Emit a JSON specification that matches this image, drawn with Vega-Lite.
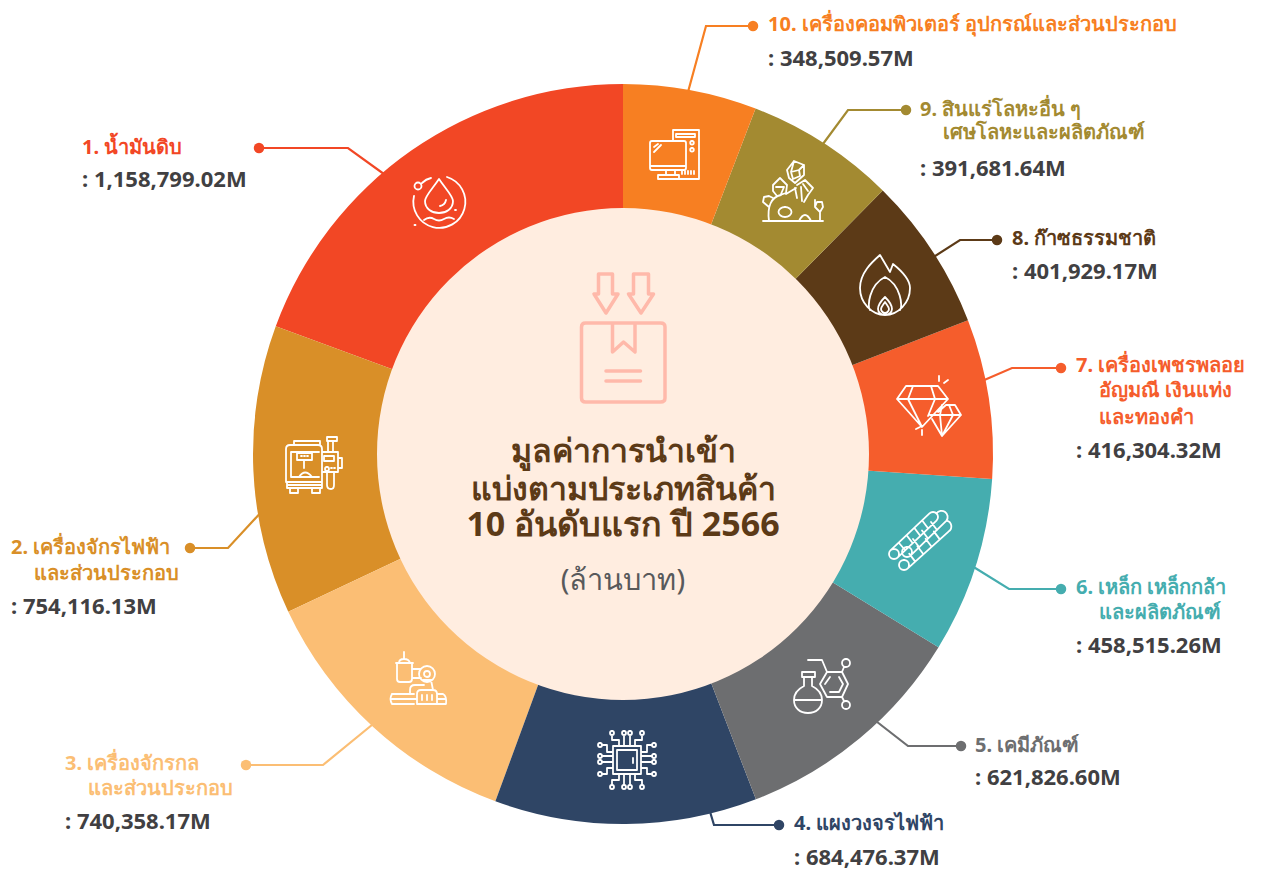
{
"$schema":"https://vega.github.io/schema/vega-lite/v6.json",
"width":1267,"height":871,"padding":0,"autosize":{"type":"fit","contains":"padding"},
"background":"#ffffff",
"config":{"view":{"stroke":null}},
"datasets":{
"slices":[
{"rank":1,"name":"น้ำมันดิบ","value":1158799.02},
{"rank":2,"name":"เครื่องจักรไฟฟ้าและส่วนประกอบ","value":754116.13},
{"rank":3,"name":"เครื่องจักรกลและส่วนประกอบ","value":740358.17},
{"rank":4,"name":"แผงวงจรไฟฟ้า","value":684476.37},
{"rank":5,"name":"เคมีภัณฑ์","value":621826.60},
{"rank":6,"name":"เหล็ก เหล็กกล้าและผลิตภัณฑ์","value":458515.26},
{"rank":7,"name":"เครื่องเพชรพลอย อัญมณี เงินแท่งและทองคำ","value":416304.32},
{"rank":8,"name":"ก๊าซธรรมชาติ","value":401929.17},
{"rank":9,"name":"สินแร่โลหะอื่น ๆ เศษโลหะและผลิตภัณฑ์","value":391681.64},
{"rank":10,"name":"เครื่องคอมพิวเตอร์ อุปกรณ์และส่วนประกอบ","value":348509.57}
],
"leaders":[
{"rank":1,"o":0,"x":259,"y":148},{"rank":1,"o":1,"x":348,"y":148},{"rank":1,"o":2,"x":395,"y":182},
{"rank":2,"o":0,"x":190,"y":548},{"rank":2,"o":1,"x":228,"y":548},{"rank":2,"o":2,"x":265,"y":508},
{"rank":3,"o":0,"x":246,"y":765},{"rank":3,"o":1,"x":323,"y":765},{"rank":3,"o":2,"x":378,"y":720},
{"rank":4,"o":0,"x":779,"y":825},{"rank":4,"o":1,"x":714,"y":825},{"rank":4,"o":2,"x":708,"y":805},
{"rank":5,"o":0,"x":961,"y":746},{"rank":5,"o":1,"x":908,"y":746},{"rank":5,"o":2,"x":872,"y":718},
{"rank":6,"o":0,"x":1061,"y":589},{"rank":6,"o":1,"x":1009,"y":589},{"rank":6,"o":2,"x":972,"y":566},
{"rank":7,"o":0,"x":1061,"y":368},{"rank":7,"o":1,"x":1012,"y":368},{"rank":7,"o":2,"x":982,"y":381},
{"rank":8,"o":0,"x":997,"y":240},{"rank":8,"o":1,"x":960,"y":240},{"rank":8,"o":2,"x":932,"y":258},
{"rank":9,"o":0,"x":906,"y":110},{"rank":9,"o":1,"x":848,"y":110},{"rank":9,"o":2,"x":820,"y":148},
{"rank":10,"o":0,"x":753,"y":26},{"rank":10,"o":1,"x":706,"y":26},{"rank":10,"o":2,"x":688,"y":92}
],
"labels":[
{"rank":1,"text":"1. น้ำมันดิบ","x":82,"y":148},
{"rank":2,"text":"2. เครื่องจักรไฟฟ้า","x":11,"y":548},
{"rank":2,"text":"และส่วนประกอบ","x":34,"y":574},
{"rank":3,"text":"3. เครื่องจักรกล","x":65,"y":764},
{"rank":3,"text":"และส่วนประกอบ","x":88,"y":789},
{"rank":4,"text":"4. แผงวงจรไฟฟ้า","x":794,"y":824},
{"rank":5,"text":"5. เคมีภัณฑ์","x":975,"y":746},
{"rank":6,"text":"6. เหล็ก เหล็กกล้า","x":1076,"y":588},
{"rank":6,"text":"และผลิตภัณฑ์","x":1099,"y":613},
{"rank":7,"text":"7. เครื่องเพชรพลอย","x":1076,"y":366},
{"rank":7,"text":"อัญมณี เงินแท่ง","x":1099,"y":391},
{"rank":7,"text":"และทองคำ","x":1099,"y":418},
{"rank":8,"text":"8. ก๊าซธรรมชาติ","x":1012,"y":239},
{"rank":9,"text":"9. สินแร่โลหะอื่น ๆ","x":920,"y":110},
{"rank":9,"text":"เศษโลหะและผลิตภัณฑ์","x":943,"y":133},
{"rank":10,"text":"10. เครื่องคอมพิวเตอร์ อุปกรณ์และส่วนประกอบ","x":768,"y":25}
],
"amounts":[
{"text":": 1,158,799.02M","x":82,"y":180},
{"text":": 754,116.13M","x":11,"y":607},
{"text":": 740,358.17M","x":65,"y":822},
{"text":": 684,476.37M","x":794,"y":858},
{"text":": 621,826.60M","x":975,"y":778},
{"text":": 458,515.26M","x":1076,"y":646},
{"text":": 416,304.32M","x":1076,"y":451},
{"text":": 401,929.17M","x":1012,"y":272},
{"text":": 391,681.64M","x":920,"y":169},
{"text":": 348,509.57M","x":768,"y":59}
],
"icons":[
{"icon":"oil","x":439,"y":202},
{"icon":"machine","x":314,"y":465},
{"icon":"robot","x":419,"y":679},
{"icon":"chip","x":627,"y":760},
{"icon":"flask","x":822,"y":686},
{"icon":"rebar","x":919,"y":543},
{"icon":"gem","x":929,"y":408},
{"icon":"flame","x":885,"y":285},
{"icon":"rocks","x":793,"y":191},
{"icon":"pc","x":674,"y":154}
]
},
"layer":[
{"data":{"name":"leaders"},
 "mark":{"type":"line","strokeWidth":2.2,"interpolate":"linear"},
 "encoding":{
  "x":{"field":"x","type":"quantitative","scale":{"domain":[0,1267]},"axis":null},
  "y":{"field":"y","type":"quantitative","scale":{"domain":[871,0]},"axis":null},
  "order":{"field":"o"},
  "color":{"field":"rank","type":"nominal","legend":null,"scale":{"domain":[1,2,3,4,5,6,7,8,9,10],"range":["#F24725","#D98F28","#FBBE74","#2F4565","#6D6E70","#45ADAF","#F55D2C","#5C3A17","#A38A31","#F77F22"]}}
 }},
{"data":{"name":"leaders"},
 "transform":[{"filter":"datum.o==0"}],
 "mark":{"type":"circle","size":110,"opacity":1},
 "encoding":{
  "x":{"field":"x","type":"quantitative","scale":{"domain":[0,1267]},"axis":null},
  "y":{"field":"y","type":"quantitative","scale":{"domain":[871,0]},"axis":null},
  "color":{"field":"rank","type":"nominal","legend":null}
 }},
{"data":{"name":"slices"},
 "mark":{"type":"arc","radius":370,"radius2":240},
 "encoding":{
  "x":{"datum":623,"type":"quantitative","scale":{"domain":[0,1267]},"axis":null},
  "y":{"datum":454,"type":"quantitative","scale":{"domain":[871,0]},"axis":null},
  "theta":{"field":"value","type":"quantitative","stack":true},
  "order":{"field":"rank","sort":"descending"},
  "color":{"field":"rank","type":"nominal","legend":null}
 }},
{"data":{"values":[{"x":623,"y":454}]},
 "mark":{"type":"circle","size":242064,"color":"#FFEDE0","opacity":1},
 "encoding":{
  "x":{"field":"x","type":"quantitative","scale":{"domain":[0,1267]},"axis":null},
  "y":{"field":"y","type":"quantitative","scale":{"domain":[871,0]},"axis":null}
 }},
{"data":{"name":"icons"},
 "mark":{"type":"point","size":4,"filled":false,"stroke":"#ffffff","strokeWidth":1.8,"opacity":1,"fill":null,"strokeJoin":"round","strokeCap":"round"},
 "encoding":{
  "x":{"field":"x","type":"quantitative","scale":{"domain":[0,1267]},"axis":null},
  "y":{"field":"y","type":"quantitative","scale":{"domain":[871,0]},"axis":null},
  "shape":{"field":"icon","type":"nominal","legend":null,"scale":{"domain":["oil","machine","robot","chip","flask","rebar","gem","flame","rocks","pc"],"range":[
"M8 -25 A26 26 0 1 1 -25 -6 M-17 -19 Q-13 -23 -8 -24 M-21 -19.500 a3.500 3.500 0 1 0 0 7 a3.500 3.500 0 1 0 0 -7 M0 -23 C-6 -14 -14 -6 -14 -1 C-14 7 -7 11 0 11 C7 11 14 7 14 -1 C14 -6 6 -14 0 -23 Z M1 4 Q6 3 7 -2 M-15 18 Q-10 14 -5 17 T5 17 T15 17 M-24.500 23 H-23.500 M16 8 H17",
"M-28 -16 Q-28 -20 -24 -20 H4 Q8 -20 8 -16 V17 H-28 Z M-20 -20 V-24 H6 V-20 M-23 -13 H5 M-23 -13 V12 H5 M-17 -12 H-2 V-5 H-17 Z M-13 -9 H-12 M-10 -9 H-9 M-7 -9 H-6 M-10 -5 V3 M-15 12 Q-9 3 -2 12 M-27 17 V23 H8 V17 M-27 20 H8 M-24 23 V28 H-16 V23 M-2 23 V28 H6 V23 M8 -13 H24 V7 H8 M10 -9 H20 V-4 H10 Z M13 2 a2 2 0 1 0 0.010 0 M17 3 H18 M20 3 H21 M24 -7 H28 V3 H24 M13 7 V20 Q13 24 17 24 Q20 24 20 20 V7 M14 -13 V-24 M19 -13 V-24 M13 -24 H23 V-28 H13 Z",
"M-27 15 H-5 M-27 25 H-5 M-27 15 Q-30 20 -27 25 M-27 20 H-2 M18 15 H24 Q28 17 27 25 H18 M18 20 H27 M-2 25 V15 Q-2 11 2 11 H14 Q18 11 18 15 V25 Z M3 16 V21 M8 16 V21 M13 16 V21 M0 -5 a8 8 0 1 0 16 0 a8 8 0 1 0 -16 0 M5 -5 a3 3 0 1 0 6 0 a3 3 0 1 0 -6 0 M-7 -10 H2 M-7 -1 H2 M4 1 H12 L14 11 M-9 15 V11 Q-9 6 -4 6 H5 M-23 -16 H-6 M-22 -16 V0 Q-22 3 -19 3 H-10 Q-7 3 -7 0 V-16 M-20 -16 Q-20 -20 -15 -20 Q-10 -20 -9 -16 M-15 -20 V-27",
"M-14 -14 H14 V14 H-14 Z M-10 -10 H10 V10 H-10 Z M6 -2 V3 M-3 -14 V-25 M3 -14 V-25 M-8 -14 V-20 H-15 V-25 M8 -14 V-20 H15 V-25 M-3 14 V25 M3 14 V25 M-8 14 V20 H-15 V25 M8 14 V20 H15 V25 M-14 -4 H-25 M-14 2 H-25 M-14 -8 H-20 V-15 H-25 M-14 8 H-20 V14 H-25 M14 -4 H25 M14 2 H25 M14 -8 H20 V-15 H25 M14 8 H20 V14 H25 M-15 -29 a2 2 0 1 0 0.010 0 M-3 -29 a2 2 0 1 0 0.010 0 M3 -29 a2 2 0 1 0 0.010 0 M15 -29 a2 2 0 1 0 0.010 0 M-15 25 a2 2 0 1 0 0.010 0 M-3 25 a2 2 0 1 0 0.010 0 M3 25 a2 2 0 1 0 0.010 0 M15 25 a2 2 0 1 0 0.010 0 M-27 -17 a2 2 0 1 0 0.010 0 M-27 -6 a2 2 0 1 0 0.010 0 M-27 0 a2 2 0 1 0 0.010 0 M-27 12 a2 2 0 1 0 0.010 0 M27 -17 a2 2 0 1 0 0.010 0 M27 -6 a2 2 0 1 0 0.010 0 M27 0 a2 2 0 1 0 0.010 0 M27 12 a2 2 0 1 0 0.010 0",
"M-20 -14 H-7 V-9 H-20 Z M-18 -9 V0 C-26 4 -28 10 -28 14 C-28 22 -22 27 -14 27 C-6 27 0 22 0 14 C0 10 -2 4 -10 0 V-9 M-28 14 H0 M5 -14 H20 L26 -2 L20 11 H5 L-2 -2 Z M8 -9 L3 -2 M17 -9 L21 -2 L17 6 H8 M5 -14 L0 -26 H-14 M20 -14 L22 -19 M20 11 L22 15 M24 -27 a4 4 0 1 0 0.010 0 M24 15 a4 4 0 1 0 0.010 0",
"M-28.500 7.400 L10.500 -29.600 A5 5 0 0 1 17.500 -22.400 L-21.500 14.600 M-25 6 a5 5 0 1 0 0.010 0 M17.500 -29.600 A5 5 0 0 1 27.500 -22.400 L-8.500 12.600 M-12 4 a5 5 0 1 0 0.010 0 M27.500 -22.400 A6 6 0 0 1 29.500 -11.400 L-11.500 25.600 M-15 17 a5 5 0 1 0 0.010 0 M-20 0 L-14 7 M-12.400 -7.800 L-6.400 0 M-4.600 -15 L1.400 -7 M3.200 -22.500 L9.200 -14.500 M-6 -4 L0 4 M3 -12.500 L9 -4.500 M12 -21 L18 -13 M-9.800 10.600 L-3.800 18.600 M-1.600 3.200 L4.400 11.200 M6.600 -4.200 L12.600 3.800 M14.800 -11.600 L20.800 -3.600",
"M-23 -22 H9 L19 -9 L-7 19 L-32 -9 Z M-32 -9 H19 M-16 -22 L-21 -9 L-7 19 M2 -22 L6 -9 L-1 8 M3 11 L13 28 L32 7 L26 -3 H17 L9 4 M1 7 H32 M13 -3 L11 7 L13 28 M20 -3 L24 7 L13 28 M10 -32 V-27 M19 -28 L15 -25 M-13 21 L-9 19 M-7 22 V27",
"M-5 -30 L5 -13 L8 -21 C18 -13 25 -5 25 3 C25 18 13 30 0 30 C-13 30 -25 18 -25 3 C-25 -12 -13 -23 -5 -30 Z M-15 25 C-18 22 -16 0 0 -8 C16 0 18 22 15 25 M0 12 C-5 17 -7 22 -7 24 C-7 28 -3 30 0 30 C3 30 7 28 7 24 C7 22 5 17 0 12 Z M0 17 C-2 20 -4 22 -4 24 C-4 26 -2 28 0 28 C2 28 4 26 4 24 C4 22 2 20 0 17 Z",
"M-6 -21 L1 -30 L11 -26 L11 -16 L2 -8 L-4 -13 Z M-2 -19 L6 -21 L7 -15 L0 -12 Z M1 -30 L-2 -19 M11 -26 L6 -21 M-20 -6 L-13 -13 L-6 -6 L-7 2 L-16 5 L-20 0 Z M-17 -4 L-9 -4 L-12 3 M4 -6 L12 -11 L20 -3 L15 4 L11 11 M2 -3 L4 7 M8 -4 L9 10 M15 0 L10 -7 M-30 30 H30 M-24 30 C-26 16 -22 6 -12 4 M-7 3 L3 -3 M22 9 V16 M-8 16 a6.500 5 0 1 0 0.010 0 M6 30 Q12 18 18 30 M-24 16 L-30 11 L-29 6 L-24 5 L-20 7 M29 11 L24 11 L22 16 L27 21 L30 16 Z M27 21 V30",
"M-1 -13 V-24 H25 V25 H6 M2 -20 H21 V-17 H2 Z M18 -13 a1.800 1.800 0 1 0 0.010 0 M18 -6 a1.800 1.800 0 1 0 0.010 0 M8 17 V20 M11 17 V20 M14 17 V20 M17 17 V20 M20 17 V20 M-22 -13 H10 Q12 -13 12 -11 V14 Q12 16 10 16 H-22 Q-24 16 -24 14 V-11 Q-24 -13 -22 -13 Z M-24 12 H12 M-8 16 V21 M1 16 V21 M-16 21 H5 V25 H-16 Z M-20 -2 L-13 -9 M-20 -7 L-16 -10"
]}}
 }},
{"data":{"values":[{"item":"box","x":623.5,"y":338}]},
 "mark":{"type":"point","size":4,"filled":false,"fill":null,"stroke":"#FFB9AA","strokeWidth":3.5,"opacity":1,"strokeJoin":"round","strokeCap":"round",
 "shape":"M-38 -15 H37 Q41.500 -15 41.500 -11 V60 Q41.500 64 37 64 H-38 Q-42 64 -42 60 V-11 Q-42 -15 -38 -15 Z M-11 -15 V14 L0 4 L11.500 14 V-15 M-17.500 33 H17 M-17.500 43 H17 M-25 -64 H-11 V-44 H-5.500 L-17.500 -25 L-29.500 -44 H-25 Z M10 -64 H25 V-44 H30 L17.500 -25 L5 -44 H10 Z"},
 "encoding":{
  "x":{"field":"x","type":"quantitative","scale":{"domain":[0,1267]},"axis":null},
  "y":{"field":"y","type":"quantitative","scale":{"domain":[871,0]},"axis":null}
 }},
{"data":{"name":"labels"},
 "mark":{"type":"text","align":"left","baseline":"middle","fontSize":20,"fontWeight":"bold","font":"Noto Sans"},
 "encoding":{
  "x":{"field":"x","type":"quantitative","scale":{"domain":[0,1267]},"axis":null},
  "y":{"field":"y","type":"quantitative","scale":{"domain":[871,0]},"axis":null},
  "text":{"field":"text"},
  "color":{"field":"rank","type":"nominal","legend":null}
 }},
{"data":{"name":"amounts"},
 "mark":{"type":"text","align":"left","baseline":"middle","fontSize":22,"fontWeight":"bold","font":"Noto Sans","color":"#414042"},
 "encoding":{
  "x":{"field":"x","type":"quantitative","scale":{"domain":[0,1267]},"axis":null},
  "y":{"field":"y","type":"quantitative","scale":{"domain":[871,0]},"axis":null},
  "text":{"field":"text"}
 }},
{"data":{"values":[{"text":"มูลค่าการนำเข้า","x":623,"y":452},{"text":"แบ่งตามประเภทสินค้า","x":623,"y":490}]},
 "mark":{"type":"text","align":"center","baseline":"middle","fontSize":32,"fontWeight":"bold","font":"Noto Sans","color":"#5C3A17"},
 "encoding":{
  "x":{"field":"x","type":"quantitative","scale":{"domain":[0,1267]},"axis":null},
  "y":{"field":"y","type":"quantitative","scale":{"domain":[871,0]},"axis":null},
  "text":{"field":"text"}
 }},
{"data":{"values":[{"text":"10 อันดับแรก ปี 2566","x":623,"y":526}]},
 "mark":{"type":"text","align":"center","baseline":"middle","fontSize":34,"fontWeight":"bold","font":"Noto Sans","color":"#5C3A17"},
 "encoding":{
  "x":{"field":"x","type":"quantitative","scale":{"domain":[0,1267]},"axis":null},
  "y":{"field":"y","type":"quantitative","scale":{"domain":[871,0]},"axis":null},
  "text":{"field":"text"}
 }},
{"data":{"values":[{"text":"(ล้านบาท)","x":623,"y":581}]},
 "mark":{"type":"text","align":"center","baseline":"middle","fontSize":29,"font":"Noto Sans","color":"#58595B"},
 "encoding":{
  "x":{"field":"x","type":"quantitative","scale":{"domain":[0,1267]},"axis":null},
  "y":{"field":"y","type":"quantitative","scale":{"domain":[871,0]},"axis":null},
  "text":{"field":"text"}
 }}
]
}
